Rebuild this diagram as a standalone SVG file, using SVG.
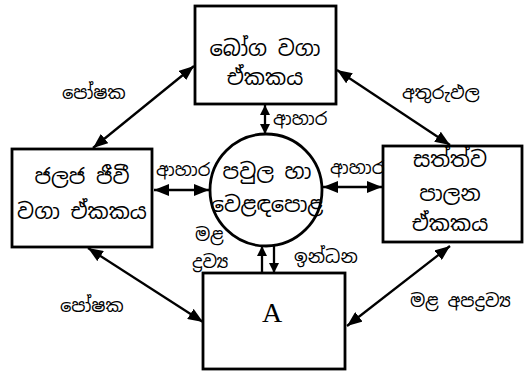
<svg xmlns="http://www.w3.org/2000/svg" width="524" height="372" viewBox="0 0 524 372">
<style>
.box{fill:#fff;stroke:#000;stroke-width:2.8}
.t{font-family:"Noto Sans Sinhala","Iskoola Pota","Noto Sans",sans-serif;font-size:21px;fill:#000;text-anchor:middle}
.l{font-family:"Noto Sans Sinhala","Iskoola Pota","Noto Sans",sans-serif;font-size:18px;fill:#000}
.c{stroke:#000;stroke-width:2.3;fill:none}
</style>
<defs>
<marker id="ah" markerUnits="userSpaceOnUse" markerWidth="15" markerHeight="12" refX="15" refY="6" orient="auto-start-reverse">
<path d="M0,0 L15,6 L0,12 z" fill="#000"/>
</marker>
<marker id="as" markerUnits="userSpaceOnUse" markerWidth="10" markerHeight="10" refX="10" refY="5" orient="auto-start-reverse">
<path d="M0,0 L10,5 L0,10 z" fill="#000"/>
</marker>
</defs>
<rect width="524" height="372" fill="#fff"/>
<g id="connectors">
<line class="c" x1="265" y1="105" x2="265" y2="134" marker-start="url(#as)" marker-end="url(#as)"/>
<line class="c" x1="154" y1="190" x2="209" y2="190" marker-start="url(#ah)" marker-end="url(#ah)"/>
<line class="c" x1="323" y1="187" x2="382" y2="187" marker-start="url(#ah)" marker-end="url(#ah)"/>
<line class="c" x1="262" y1="273" x2="262" y2="246" marker-end="url(#as)"/>
<line class="c" x1="274" y1="246" x2="274" y2="273" marker-end="url(#as)"/>
<line class="c" x1="93" y1="148" x2="194" y2="66" marker-start="url(#ah)" marker-end="url(#ah)"/>
<line class="c" x1="337" y1="70" x2="450" y2="145" marker-start="url(#ah)" marker-end="url(#ah)"/>
<line class="c" x1="88" y1="248" x2="203" y2="322" marker-start="url(#ah)" marker-end="url(#ah)"/>
<line class="c" x1="450" y1="246" x2="347" y2="326" marker-start="url(#ah)" marker-end="url(#ah)"/>
</g>
<g id="n-crop">
<rect class="box" x="195" y="6" width="141" height="98"/>
<text class="t" x="265" y="56">බෝග වගා</text>
<text class="t" x="265" y="85">ඒකකය</text>
</g>
<g id="n-aqua">
<rect class="box" x="12" y="149" width="140" height="98"/>
<text class="t" x="82" y="184">ජලජ ජීවී</text>
<text class="t" x="82" y="219">වගා ඒකකය</text>
</g>
<g id="n-animal">
<rect class="box" x="383" y="146" width="139" height="96"/>
<text class="t" x="450" y="167">සත්ත්ව</text>
<text class="t" x="450" y="201">පාලන</text>
<text class="t" x="450" y="231">ඒකකය</text>
</g>
<g id="n-family">
<circle cx="266" cy="190" r="56" fill="#fff" stroke="#000" stroke-width="2.8"/>
<text class="t" x="267" y="179">පවුල හා</text>
<text class="t" x="267" y="212">වෙළඳපොළ</text>
</g>
<g id="n-a">
<rect class="box" x="203" y="273" width="142" height="96"/>
<text x="272" y="322" font-family="Liberation Serif,serif" font-size="28" text-anchor="middle">A</text>
</g>
<g id="labels">
<text class="l" x="62" y="99">පෝෂක</text>
<text class="l" x="402" y="99">අතුරුඵල</text>
<text class="l" x="273" y="125">ආහාර</text>
<text class="l" x="156" y="176">ආහාර</text>
<text class="l" x="330" y="174">ආහාර</text>
<text class="l" x="195" y="241">මළ</text>
<text class="l" x="192" y="268">ද්‍රව්‍ය</text>
<text class="l" x="294" y="263">ඉන්ධන</text>
<text class="l" x="60" y="312">පෝෂක</text>
<text class="l" x="410" y="307">මළ අපද්‍රව්‍ය</text>
</g>
</svg>
